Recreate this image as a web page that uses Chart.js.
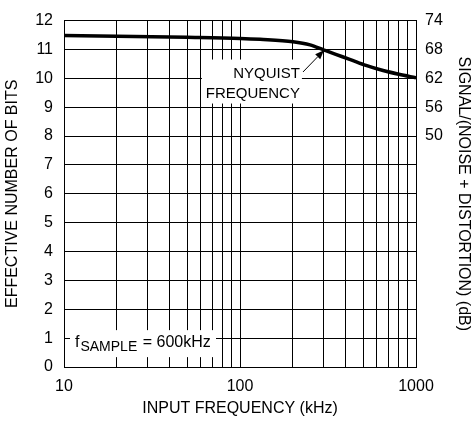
<!DOCTYPE html>
<html><head><meta charset="utf-8">
<script src="https://cdn.jsdelivr.net/npm/chart.js@4"></script>
<style>html,body{margin:0;padding:0;background:#fff}canvas{display:block}</style>
</head><body>
<canvas id="c" width="471" height="421"></canvas>
<script>
// ---- data ----
const frequencies = [10, 20, 50, 100, 130, 200, 250, 300, 350, 420, 520, 650, 800, 1000];
const enobValues  = [11.48, 11.46, 11.42, 11.38, 11.35, 11.27, 11.16, 10.98, 10.83, 10.66, 10.45, 10.27, 10.14, 10.02];
const xTickValues = [10,20,30,40,50,60,70,80,90,100,200,300,400,500,600,700,800,900,1000];
const xTickLabels = {10:'10', 100:'100', 1000:'1000'};
const leftTickValues  = [0,1,2,3,4,5,6,7,8,9,10,11,12];
const rightTickValues = [50,56,62,68,74];
const xTitle = 'INPUT FREQUENCY (kHz)';
const leftTitle = 'EFFECTIVE NUMBER OF BITS';
const rightTitle = 'SIGNAL/(NOISE + DISTORTION) (dB)';
const nyquistLines = ['NYQUIST', 'FREQUENCY'];
const nyquistLabelAt = {f: 219, v: 9.82};
const nyquistArrowTail = {f: 228, v: 10.22};
const nyquistArrowTip  = {f: 300, v: 10.97};
const sampleLabelAt = {f: 10, v: 1};
const sampleText = ['f', 'SAMPLE', ' = 600kHz'];

const FONT = '"Liberation Sans", Arial, sans-serif';
const black = '#000';

const annotations = {
  id: 'annotations',
  beforeDatasetsDraw(chart) {
    const {ctx, scales: {x, y}} = chart;
    ctx.save();
    // Nyquist label
    const ax = x.getPixelForValue(nyquistLabelAt.f);
    const ay = y.getPixelForValue(nyquistLabelAt.v);
    ctx.fillStyle = '#fff';
    ctx.fillRect(ax - 98, ay - 24, 100, 44);
    ctx.fillStyle = black;
    ctx.font = '15px ' + FONT;
    ctx.textAlign = 'right';
    ctx.textBaseline = 'middle';
    ctx.fillText(nyquistLines[0], ax, ay - 10);
    ctx.fillText(nyquistLines[1], ax, ay + 10);
    // fSAMPLE label
    const sx = x.getPixelForValue(sampleLabelAt.f);
    const sy = y.getPixelForValue(sampleLabelAt.v);
    ctx.fillStyle = '#fff';
    ctx.fillRect(sx + 6, sy - 8, 146, 27);
    ctx.fillStyle = black;
    ctx.textAlign = 'left';
    ctx.textBaseline = 'alphabetic';
    let tx = sx + 11;
    ctx.font = '16px ' + FONT;
    ctx.fillText(sampleText[0], tx, sy + 9);
    tx += ctx.measureText(sampleText[0]).width + 1;
    ctx.font = '14px ' + FONT;
    ctx.fillText(sampleText[1], tx, sy + 13);
    tx += ctx.measureText(sampleText[1]).width + 1;
    ctx.font = '16px ' + FONT;
    ctx.fillText(sampleText[2], tx, sy + 9);
    ctx.restore();
  },
  afterDatasetsDraw(chart) {
    const {ctx, scales: {x, y}} = chart;
    const x0 = x.getPixelForValue(nyquistArrowTail.f), y0 = y.getPixelForValue(nyquistArrowTail.v);
    const x1 = x.getPixelForValue(nyquistArrowTip.f),  y1 = y.getPixelForValue(nyquistArrowTip.v);
    const ang = Math.atan2(y1 - y0, x1 - x0);
    const L = 9, W = 3.5;
    ctx.save();
    ctx.strokeStyle = black; ctx.fillStyle = black; ctx.lineWidth = 1;
    ctx.beginPath();
    ctx.moveTo(x0, y0);
    ctx.lineTo(x1 - L * Math.cos(ang), y1 - L * Math.sin(ang));
    ctx.stroke();
    ctx.beginPath();
    ctx.moveTo(x1, y1);
    ctx.lineTo(x1 - L * Math.cos(ang) + W * Math.sin(ang), y1 - L * Math.sin(ang) - W * Math.cos(ang));
    ctx.lineTo(x1 - L * Math.cos(ang) - W * Math.sin(ang), y1 - L * Math.sin(ang) + W * Math.cos(ang));
    ctx.closePath();
    ctx.fill();
    ctx.restore();
  }
};

new Chart(document.getElementById('c'), {
  type: 'line',
  data: {
    datasets: [{
      data: frequencies.map((f, i) => ({x: f, y: enobValues[i]})),
      borderColor: black,
      borderWidth: 3.5,
      pointRadius: 0,
      cubicInterpolationMode: 'monotone',
      yAxisID: 'y'
    }]
  },
  options: {
    responsive: false,
    animation: false,
    devicePixelRatio: 1,
    layout: {padding: {top: 16, left: 0, right: 0, bottom: 0}},
    plugins: {legend: {display: false}, tooltip: {enabled: false}},
    scales: {
      x: {
        type: 'logarithmic', position: 'bottom', min: 10, max: 1000,
        afterBuildTicks: s => { s.ticks = xTickValues.map(v => ({value: v})); },
        afterFit: s => { s.height = 54; },
        ticks: {autoSkip: false, maxRotation: 0, color: black, padding: 10,
                font: {family: FONT, size: 16},
                callback: v => xTickLabels[v] ?? ''},
        grid: {color: black, lineWidth: 1, drawTicks: false},
        border: {color: black, width: 1},
        title: {display: true, text: xTitle, color: black,
                font: {family: FONT, size: 16, lineHeight: 1}, padding: {top: 0, bottom: 4}}
      },
      y: {
        type: 'linear', position: 'left', min: 0, max: 12,
        afterBuildTicks: s => { s.ticks = leftTickValues.map(v => ({value: v})); },
        afterFit: s => { s.width = 64; },
        ticks: {color: black, padding: 11, font: {family: FONT, size: 16}},
        grid: {color: black, lineWidth: 1, drawTicks: false},
        border: {color: black, width: 1},
        title: {display: true, text: leftTitle, color: black,
                font: {family: FONT, size: 16, lineHeight: 1}, padding: {top: 5, bottom: 0}}
      },
      y2: {
        type: 'linear', position: 'right', min: 2, max: 74,
        afterBuildTicks: s => { s.ticks = rightTickValues.map(v => ({value: v})); },
        afterFit: s => { s.width = 55; },
        ticks: {color: black, padding: 9, font: {family: FONT, size: 16}},
        grid: {display: false, drawTicks: false},
        border: {color: black, width: 1},
        title: {display: true, text: rightTitle, color: black,
                font: {family: FONT, size: 16, lineHeight: 1}, padding: {top: 0, bottom: 0}}
      }
    }
  },
  plugins: [annotations]
});
</script>
</body></html>
